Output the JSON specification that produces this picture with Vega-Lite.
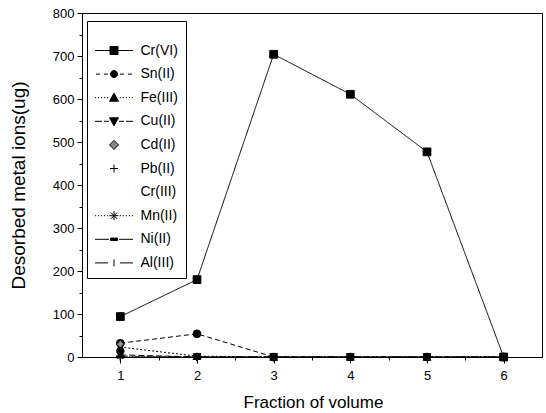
{
  "$schema": "https://vega.github.io/schema/vega-lite/v6.json",
  "width": 460,
  "height": 344,
  "autosize": {"type": "none"},
  "padding": {"left": 82, "top": 13, "right": 4, "bottom": 56},
  "background": "white",
  "config": {
    "view": {"stroke": "black", "strokeWidth": 1},
    "font": "Liberation Sans",
    "axis": {"domainColor": "black", "tickColor": "black", "labelColor": "black", "titleColor": "black", "grid": false, "labelFont": "Liberation Sans", "titleFont": "Liberation Sans", "domainWidth": 1, "tickWidth": 1},
    "legend": {"symbolOpacity": 1, "symbolStrokeColor": "black", "symbolStrokeWidth": 1}
  },
  "data": {"values": [
    {"x": 1, "ion": "Cr(VI)", "value": 94}, {"x": 2, "ion": "Cr(VI)", "value": 180}, {"x": 3, "ion": "Cr(VI)", "value": 704}, {"x": 4, "ion": "Cr(VI)", "value": 611}, {"x": 5, "ion": "Cr(VI)", "value": 477}, {"x": 6, "ion": "Cr(VI)", "value": 0},
    {"x": 1, "ion": "Sn(II)", "value": 32}, {"x": 2, "ion": "Sn(II)", "value": 54}, {"x": 3, "ion": "Sn(II)", "value": 0}, {"x": 4, "ion": "Sn(II)", "value": 0}, {"x": 5, "ion": "Sn(II)", "value": 0}, {"x": 6, "ion": "Sn(II)", "value": 0},
    {"x": 1, "ion": "Fe(III)", "value": 23}, {"x": 2, "ion": "Fe(III)", "value": 2}, {"x": 3, "ion": "Fe(III)", "value": 0}, {"x": 4, "ion": "Fe(III)", "value": 0}, {"x": 5, "ion": "Fe(III)", "value": 0}, {"x": 6, "ion": "Fe(III)", "value": 0},
    {"x": 1, "ion": "Cu(II)", "value": 5}, {"x": 2, "ion": "Cu(II)", "value": 0}, {"x": 3, "ion": "Cu(II)", "value": 0}, {"x": 4, "ion": "Cu(II)", "value": 0}, {"x": 5, "ion": "Cu(II)", "value": 0}, {"x": 6, "ion": "Cu(II)", "value": 0},
    {"x": 1, "ion": "Cd(II)", "value": 30}, {"x": 2, "ion": "Cd(II)", "value": 0}, {"x": 3, "ion": "Cd(II)", "value": 0}, {"x": 4, "ion": "Cd(II)", "value": 0}, {"x": 5, "ion": "Cd(II)", "value": 0}, {"x": 6, "ion": "Cd(II)", "value": 0},
    {"x": 1, "ion": "Pb(II)", "value": 0}, {"x": 2, "ion": "Pb(II)", "value": 0}, {"x": 3, "ion": "Pb(II)", "value": 0}, {"x": 4, "ion": "Pb(II)", "value": 0}, {"x": 5, "ion": "Pb(II)", "value": 0}, {"x": 6, "ion": "Pb(II)", "value": 0},
    {"x": 1, "ion": "Cr(III)", "value": 0}, {"x": 2, "ion": "Cr(III)", "value": 0}, {"x": 3, "ion": "Cr(III)", "value": 0}, {"x": 4, "ion": "Cr(III)", "value": 0}, {"x": 5, "ion": "Cr(III)", "value": 0}, {"x": 6, "ion": "Cr(III)", "value": 0},
    {"x": 1, "ion": "Mn(II)", "value": 2}, {"x": 2, "ion": "Mn(II)", "value": 0}, {"x": 3, "ion": "Mn(II)", "value": 0}, {"x": 4, "ion": "Mn(II)", "value": 0}, {"x": 5, "ion": "Mn(II)", "value": 0}, {"x": 6, "ion": "Mn(II)", "value": 0},
    {"x": 1, "ion": "Ni(II)", "value": 0}, {"x": 2, "ion": "Ni(II)", "value": 0}, {"x": 3, "ion": "Ni(II)", "value": 0}, {"x": 4, "ion": "Ni(II)", "value": 0}, {"x": 5, "ion": "Ni(II)", "value": 0}, {"x": 6, "ion": "Ni(II)", "value": 0},
    {"x": 1, "ion": "Al(III)", "value": 0}, {"x": 2, "ion": "Al(III)", "value": 0}, {"x": 3, "ion": "Al(III)", "value": 0}, {"x": 4, "ion": "Al(III)", "value": 0}, {"x": 5, "ion": "Al(III)", "value": 0}, {"x": 6, "ion": "Al(III)", "value": 0}
  ]},
  "layer": [
    {
      "transform": [{"filter": "indexof(['Cd(II)','Pb(II)','Cr(III)'], datum.ion) < 0"}],
      "mark": {"type": "line", "color": "black", "strokeWidth": 1},
      "encoding": {
        "x": {"field": "x", "type": "quantitative", "scale": {"domain": [0.5, 6.5], "nice": false, "zero": false},
              "axis": {"orient": "bottom", "values": [1.5, 2.5, 3.5, 4.5, 5.5], "labels": false, "domain": false, "tickSize": 3, "title": null}},
        "y": {"field": "value", "type": "quantitative", "scale": {"domain": [0, 800], "nice": false},
              "axis": {"orient": "left", "values": [50, 150, 250, 350, 450, 550, 650, 750], "labels": false, "domain": false, "tickSize": 3, "title": null}},
        "strokeDash": {"field": "ion", "type": "nominal", "legend": null,
          "scale": {"domain": ["Cr(VI)", "Sn(II)", "Fe(III)", "Cu(II)", "Mn(II)", "Ni(II)", "Al(III)"],
                    "range": [[1, 0], [5, 3], [2, 2], [6, 3], [1, 2], [8, 3, 2, 3], [6, 3, 1, 3]]}}
      }
    },
    {
      "mark": {"type": "point", "filled": true, "stroke": "black", "strokeWidth": 1, "size": 60, "opacity": 1},
      "encoding": {
        "x": {"field": "x", "type": "quantitative",
              "axis": {"orient": "bottom", "values": [1, 2, 3, 4, 5, 6], "format": "d", "tickSize": 6, "labelPadding": 6, "labelFontSize": 13,
                       "title": "Fraction of volume", "titleFontSize": 17, "titleFontWeight": "normal", "titleX": 231, "titleY": 45, "titleBaseline": "middle", "titleAlign": "center"}},
        "y": {"field": "value", "type": "quantitative",
              "axis": {"orient": "left", "values": [0, 100, 200, 300, 400, 500, 600, 700, 800], "tickSize": 5, "labelPadding": 3, "labelFontSize": 13,
                       "title": "Desorbed metal ions(ug)", "titleFontSize": 19, "titleFontWeight": "normal", "titleX": -64, "titleY": 172, "titleAngle": -90, "titleBaseline": "middle", "titleAlign": "center"}},
        "shape": {"field": "ion", "type": "nominal", "legend": null,
          "scale": {"domain": ["Cr(VI)", "Sn(II)", "Fe(III)", "Cu(II)", "Cd(II)", "Pb(II)", "Cr(III)", "Mn(II)", "Ni(II)", "Al(III)"],
                    "range": ["square", "circle", "triangle-up", "triangle-down", "diamond", "M-1,0H1M0,-1V1", "M0,0", "M-1,0H1M0,-1V1M-0.7,-0.7L0.7,0.7M-0.7,0.7L0.7,-0.7", "M-1,-0.25H1V0.25H-1Z", "M0,-1V1"]}},
        "fill": {"condition": {"test": "datum.ion === 'Cd(II)'", "value": "#8a8a8a"}, "value": "black"}
      }
    },
    {
      "transform": [{"filter": "false"}],
      "mark": {"type": "point", "filled": true, "stroke": "black", "strokeWidth": 1, "opacity": 1},
      "encoding": {
        "shape": {"field": "ion", "type": "nominal",
          "scale": {"domain": ["Cr(VI)", "Sn(II)", "Fe(III)", "Cu(II)", "Cd(II)", "Pb(II)", "Cr(III)", "Mn(II)", "Ni(II)", "Al(III)"],
                    "range": [
                      "M-1.9,0H-0.4M0.4,0H1.9M-0.4,-0.4H0.4V0.4H-0.4Z",
                      "M-1.8,0H-1.4M-1,0H-0.6M0.6,0H1M1.4,0H1.8M0.35,0A0.35,0.35,0,1,1,-0.35,0A0.35,0.35,0,1,1,0.35,0Z",
                      "M-1.9,0H-1.78M-1.6,0H-1.48M-1.3,0H-1.18M-1,0H-0.88M-0.7,0H-0.58M0.58,0H0.7M0.88,0H1M1.18,0H1.3M1.48,0H1.6M1.78,0H1.9M0,-0.45L0.45,0.35H-0.45Z",
                      "M-1.9,0H-1.2M-1,0H-0.5M0.5,0H1M1.2,0H1.9M-0.45,-0.35H0.45L0,0.45Z",
                      "M0,-0.45L0.45,0L0,0.45L-0.45,0Z",
                      "M-0.4,0H0.4M0,-0.4V0.4",
                      "M0,0",
                      "M-1.9,0H-1.78M-1.6,0H-1.48M-1.3,0H-1.18M-1,0H-0.88M-0.7,0H-0.58M0.58,0H0.7M0.88,0H1M1.18,0H1.3M1.48,0H1.6M1.78,0H1.9M-0.45,0H0.45M0,-0.45V0.45M-0.32,-0.32L0.32,0.32M-0.32,0.32L0.32,-0.32",
                      "M-1.9,0H-0.5M0.5,0H1.9M-0.35,-0.12H0.35V0.12H-0.35Z",
                      "M-1.9,0H-0.6M0.6,0H1.9M0,-0.35V0.35"
                    ]},
          "legend": {"title": " ", "titleFontSize": 8, "titlePadding": 3, "orient": "none", "legendX": 5, "legendY": 8,
                     "strokeColor": "black", "fillColor": "white", "padding": 8,
                     "symbolSize": 400, "symbolOffset": 8.5, "labelOffset": 16, "rowPadding": 5.6,
                     "labelFontSize": 14, "labelFont": "Liberation Sans", "labelColor": "black",
                     "symbolStrokeColor": "black", "symbolStrokeWidth": 1, "symbolOpacity": 1,
                     "encode": {"symbols": {"update": {"stroke": {"value": "black"}, "strokeWidth": {"value": 1}, "opacity": {"value": 1}}}}}},
        "fill": {"field": "ion", "type": "nominal",
          "scale": {"domain": ["Cr(VI)", "Sn(II)", "Fe(III)", "Cu(II)", "Cd(II)", "Pb(II)", "Cr(III)", "Mn(II)", "Ni(II)", "Al(III)"],
                    "range": ["black", "black", "black", "black", "#8a8a8a", "black", "black", "black", "black", "black"]},
          "legend": {"title": " ", "titleFontSize": 8, "titlePadding": 3, "orient": "none", "legendX": 5, "legendY": 8,
                     "strokeColor": "black", "fillColor": "white", "padding": 8,
                     "symbolSize": 400, "symbolOffset": 8.5, "labelOffset": 16, "rowPadding": 5.6,
                     "labelFontSize": 14, "labelFont": "Liberation Sans", "labelColor": "black",
                     "symbolStrokeColor": "black", "symbolStrokeWidth": 1, "symbolOpacity": 1,
                     "encode": {"symbols": {"update": {"stroke": {"value": "black"}, "strokeWidth": {"value": 1}, "opacity": {"value": 1}}}}}}
      }
    }
  ],
  "resolve": {"scale": {"shape": "independent", "fill": "independent"}, "axis": {"x": "independent", "y": "independent"}}
}
